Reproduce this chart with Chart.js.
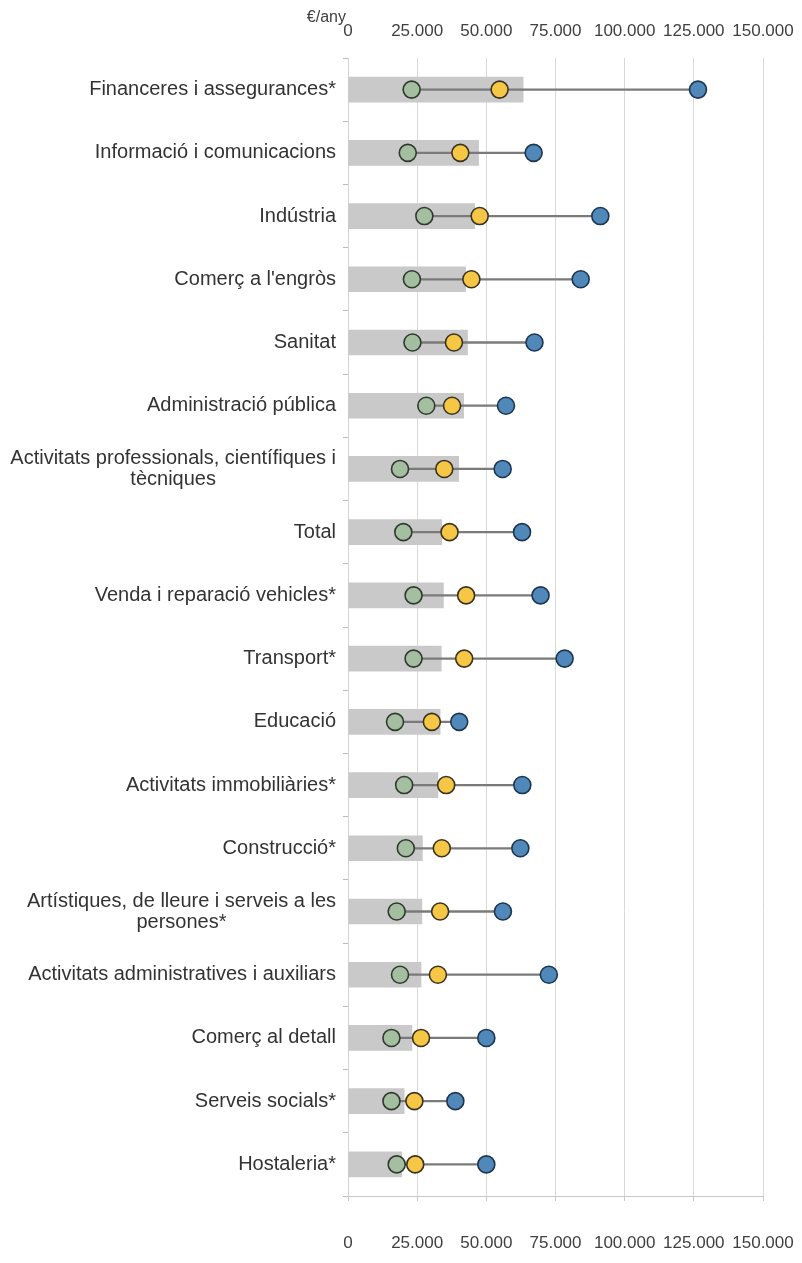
<!DOCTYPE html>
<html><head><meta charset="utf-8">
<script src="https://cdn.jsdelivr.net/npm/chart.js@4/dist/chart.umd.min.js"></script>
<style>html,body{margin:0;padding:0;background:#fff}canvas{display:block}</style>
</head><body>
<canvas id="c" width="802" height="1263"></canvas>
<script>
const categories = [
  "Financeres i assegurances*",
  "Informació i comunicacions",
  "Indústria",
  "Comerç a l'engròs",
  "Sanitat",
  "Administració pública",
  ["Activitats professionals, científiques i", "tècniques"],
  "Total",
  "Venda i reparació vehicles*",
  "Transport*",
  "Educació",
  "Activitats immobiliàries*",
  "Construcció*",
  ["Artístiques, de lleure i serveis a les", "persones*"],
  "Activitats administratives i auxiliars",
  "Comerç al detall",
  "Serveis socials*",
  "Hostaleria*"
];
const barValues    = [63300, 47200, 45800, 42500, 43200, 41800, 40000, 33900, 34500, 33700, 33300, 32500, 26900, 26700, 26400, 23100, 20300, 19400];
const greenValues  = [23000, 21600, 27600, 23100, 23300, 28300, 18800, 20000, 23700, 23700, 17000, 20300, 20900, 17600, 18800, 15700, 15700, 17600];
const yellowValues = [54800, 40600, 47600, 44600, 38300, 37600, 34800, 36700, 42700, 42000, 30300, 35500, 33900, 33300, 32500, 26400, 24000, 24300];
const blueValues   = [126500, 67100, 91200, 84100, 67400, 57100, 55900, 62900, 69600, 78300, 40200, 63000, 62300, 56000, 72600, 50000, 38800, 50000];
const xTicks = [0, 25000, 50000, 75000, 100000, 125000, 150000];
const unitLabel = "€/any";

const rangeValues = categories.map((_, i) => {
  const v = [greenValues[i], yellowValues[i], blueValues[i]];
  return [Math.min(...v), Math.max(...v)];
});

function fmt(v) {
  return String(v).replace(/\B(?=(\d{3})+(?!\d))/g, ".");
}

const FONT = '"Liberation Sans", Arial, sans-serif';

const labelPlugin = {
  id: 'ylabels',
  afterDraw(chart) {
    const ctx = chart.ctx;
    const ys = chart.scales.y;
    const right = chart.chartArea.left - 12;
    ctx.save();
    ctx.fillStyle = '#333';
    ctx.textBaseline = 'middle';
    ctx.font = '20px ' + FONT;
    categories.forEach((lab, i) => {
      const lines = Array.isArray(lab) ? lab : [lab];
      const cy = ys.getPixelForValue(i);
      const lh = 21;
      if (lines.length === 1) {
        ctx.textAlign = 'right';
        ctx.fillText(lines[0], right, cy);
      } else {
        const maxW = Math.max(...lines.map(l => ctx.measureText(l).width));
        const cx = right - maxW / 2;
        ctx.textAlign = 'center';
        lines.forEach((l, j) => {
          ctx.fillText(l, cx, cy + (j - (lines.length - 1) / 2) * lh);
        });
      }
    });
    ctx.font = '16px ' + FONT;
    ctx.textAlign = 'right';
    ctx.fillStyle = '#404040';
    ctx.fillText(unitLabel, chart.chartArea.left - 2, 18);
    ctx.restore();
  }
};

const pointDs = (data, fill, border, order) => ({
  type: 'line',
  indexAxis: 'y',
  data: data,
  showLine: false,
  pointRadius: 8.5,
  pointHoverRadius: 8.5,
  pointBorderWidth: 1.6,
  pointBackgroundColor: fill,
  pointBorderColor: border,
  backgroundColor: fill,
  borderColor: border,
  xAxisID: 'x',
  yAxisID: 'y',
  order: order
});

const tickCfg = (padding) => ({
  font: { family: FONT, size: 17 },
  color: '#404040',
  padding: padding,
  maxRotation: 0,
  autoSkip: false,
  callback: (v) => fmt(v)
});

const fixX = (h) => (s) => { s.height = h; s.paddingLeft = 0; s.paddingRight = 0; };

new Chart(document.getElementById('c'), {
  data: {
    labels: categories,
    datasets: [
      { type: 'bar', indexAxis: 'y', data: barValues, backgroundColor: '#c9c9c9', barThickness: 25, grouped: false, xAxisID: 'x', yAxisID: 'y', order: 5 },
      { type: 'bar', indexAxis: 'y', data: rangeValues, backgroundColor: '#7a7a7a', barThickness: 1.6, grouped: false, xAxisID: 'x', yAxisID: 'y', order: 4 },
      pointDs(greenValues, '#a3bf9f', '#2f3a2f', 3),
      pointDs(yellowValues, '#f6c744', '#3a3222', 2),
      pointDs(blueValues, '#4f88b9', '#1d3550', 1)
    ]
  },
  options: {
    indexAxis: 'y',
    responsive: false,
    devicePixelRatio: 1,
    animation: false,
    layout: { padding: { left: 0, right: 39, top: 0, bottom: 0 } },
    plugins: { legend: { display: false }, tooltip: { enabled: false } },
    scales: {
      x: {
        type: 'linear', position: 'bottom', min: 0, max: 150000,
        afterBuildTicks: s => { s.ticks = xTicks.map(v => ({ value: v })); },
        afterFit: fixX(67),
        grid: { color: '#d9d9d9', lineWidth: 1, drawTicks: true, tickLength: 5, tickColor: '#c8c8c8' },
        border: { display: true, color: '#c8c8c8' },
        ticks: tickCfg(32)
      },
      x2: {
        type: 'linear', position: 'top', min: 0, max: 150000,
        afterBuildTicks: s => { s.ticks = xTicks.map(v => ({ value: v })); },
        afterFit: fixX(58),
        grid: { display: false, drawTicks: false },
        border: { display: false },
        ticks: tickCfg(16)
      },
      y: {
        type: 'category', position: 'left', offset: true,
        afterFit: s => { s.width = 348; s.paddingTop = 0; s.paddingBottom = 0; },
        grid: { offset: true, drawOnChartArea: false, drawTicks: true, tickLength: 5, color: '#bdbdbd', tickColor: '#bdbdbd' },
        border: { display: true, color: '#d4d4d4' },
        ticks: { display: false }
      }
    }
  },
  plugins: [labelPlugin]
});
</script>
</body></html>
